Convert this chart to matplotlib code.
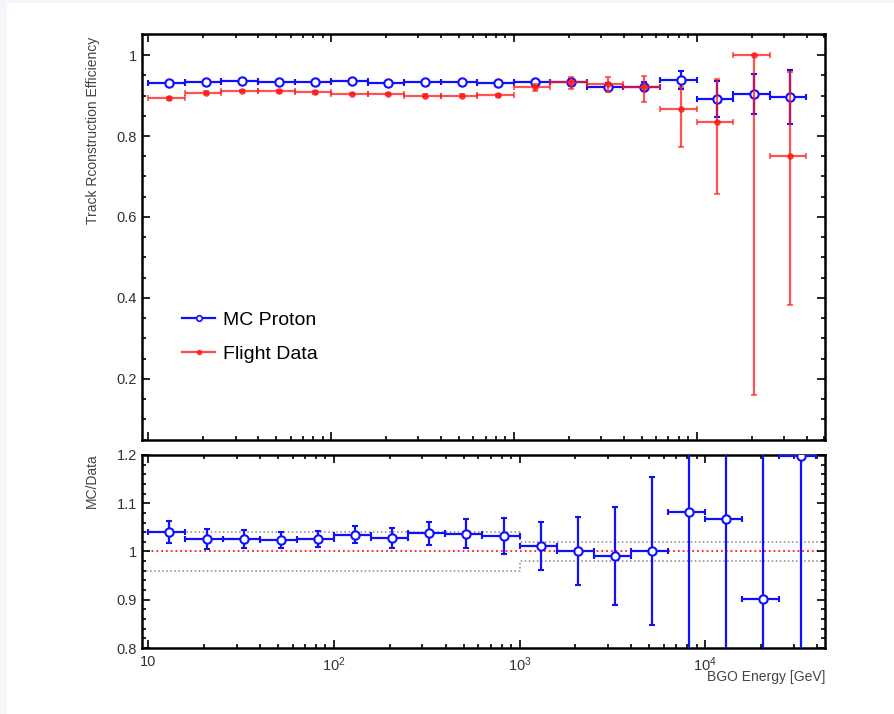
import matplotlib
matplotlib.use("Agg")
import matplotlib.pyplot as plt
from matplotlib.lines import Line2D
from matplotlib.patches import Rectangle
from matplotlib.ticker import FixedLocator, FixedFormatter, LogLocator, NullFormatter, MultipleLocator, FuncFormatter
import numpy as np

plt.rcParams['font.family'] = ['Liberation Sans', 'DejaVu Sans']
plt.rcParams['mathtext.fontset'] = 'custom'
plt.rcParams['mathtext.rm'] = 'Liberation Sans'
plt.rcParams['mathtext.it'] = 'Liberation Sans'

# binning in BGO energy (GeV) and mean energy of each bin
bin_edges = [10, 15.85, 25.12, 39.81, 63.10, 100, 158.5, 251.2, 398.1, 631.0,
             1000, 1585, 2512, 3981, 6310, 10000, 15850, 25120, 39810]
energy = [13.0, 20.6, 32.7, 51.8, 82.1, 130, 206, 327, 518, 821,
          1300, 2061, 3266, 5176, 8204, 13000, 20610, 32660]

# MC proton efficiency
mc_eff = [0.930, 0.933, 0.936, 0.933, 0.933, 0.936, 0.930, 0.934, 0.933, 0.930,
          0.933, 0.934, 0.922, 0.922, 0.938, 0.891, 0.904, 0.897]
mc_err = [0.003, 0.003, 0.003, 0.003, 0.003, 0.003, 0.003, 0.003, 0.003, 0.003,
          0.004, 0.006, 0.008, 0.012, 0.022, 0.045, 0.050, 0.067]

# flight data efficiency (asymmetric errors)
data_eff = [0.893, 0.907, 0.911, 0.910, 0.908, 0.904, 0.904, 0.900, 0.900, 0.901,
            0.920, 0.933, 0.928, 0.920, 0.867, 0.834, 1.000, 0.751]
data_err_lo = [0.003, 0.003, 0.003, 0.003, 0.003, 0.003, 0.003, 0.003, 0.003, 0.004,
               0.008, 0.016, 0.020, 0.035, 0.093, 0.178, 0.840, 0.368]
data_err_hi = [0.003, 0.003, 0.003, 0.003, 0.003, 0.003, 0.003, 0.003, 0.003, 0.004,
               0.008, 0.013, 0.018, 0.028, 0.055, 0.106, 0.000, 0.208]

# MC / Data ratio
ratio = [1.041, 1.026, 1.026, 1.024, 1.026, 1.035, 1.028, 1.038, 1.037, 1.032,
         1.012, 1.001, 0.991, 1.001, 1.082, 1.068, 0.902, 1.197]
ratio_err = [0.023, 0.020, 0.018, 0.017, 0.016, 0.018, 0.020, 0.024, 0.030, 0.037,
             0.050, 0.070, 0.101, 0.154, 0.400, 0.450, 0.500, 0.600]

# systematic bands on the ratio (below / above 1 TeV)
band_split = 1000
band_hi = [1.04, 1.02]
band_lo = [0.96, 0.98]

x = np.array(energy)
lo = np.array(bin_edges[:-1])
hi = np.array(bin_edges[1:])
xerr = [x - lo, hi - x]

fig = plt.figure(figsize=(8.95, 7.14), dpi=100, facecolor='#f4f6fa')
fig.patches.append(Rectangle((7 / 895, 0), 1, 1 - 3 / 714, transform=fig.transFigure,
                             facecolor='white', edgecolor='none', zorder=-10))

ax1 = fig.add_axes([141.7 / 895, 1 - 440 / 714, 683.3 / 895, 406 / 714])
ax2 = fig.add_axes([141.7 / 895, 1 - 648 / 714, 683.3 / 895, 193 / 714])

blue = '#1010ff'
red = '#ff1a1a'

ax1.errorbar(x, mc_eff, xerr=xerr, yerr=mc_err, fmt='o', color=blue,
             mfc='white', mec=blue, ms=6, mew=1.5, elinewidth=1.6,
             capsize=2, capthick=1.2, zorder=3)
ax1.errorbar(x, data_eff, xerr=xerr, yerr=[data_err_lo, data_err_hi], fmt='o',
             color=red, mec=red, ms=3.8, elinewidth=1.6, capsize=2,
             capthick=1.2, alpha=0.75, zorder=4)

handles = [Line2D([], [], color=blue, lw=1.6, marker='o', ms=4, mfc='white', mew=1.2),
           Line2D([], [], color=red, lw=1.6, marker='o', ms=3, alpha=0.8)]
ax1.legend(handles, ['MC Proton', 'Flight Data'], loc='upper left',
           bbox_to_anchor=(182 / 895, 1 - 311 / 714), bbox_transform=fig.transFigure,
           frameon=False, fontsize=14, handlelength=1.7, handletextpad=0.4,
           labelspacing=0.86, borderpad=0, borderaxespad=0)

# ratio panel
xl2 = (9.21, 44260)
ax2.step([xl2[0], band_split, xl2[1]], [band_hi[0], band_hi[1], band_hi[1]],
         where='post', color='#888888', ls=':', lw=1.1, zorder=1)
ax2.step([xl2[0], band_split, xl2[1]], [band_lo[0], band_lo[1], band_lo[1]],
         where='post', color='#888888', ls=':', lw=1.1, zorder=1)
ax2.axhline(1.0, color=red, ls=':', lw=1.3, zorder=1)
ax2.errorbar(x, ratio, xerr=xerr, yerr=ratio_err, fmt='o', color=blue,
             mfc='white', mec=blue, ms=6, mew=1.5, elinewidth=1.6,
             capsize=2, capthick=1.2, zorder=3)

for ax in (ax1, ax2):
    ax.set_xscale('log')
    ax.xaxis.set_major_locator(FixedLocator([10, 100, 1000, 10000]))
    ax.xaxis.set_minor_locator(LogLocator(base=10, subs=np.arange(2, 10)))
    ax.xaxis.set_minor_formatter(NullFormatter())
    ax.tick_params(which='both', direction='in', top=True, right=True,
                   colors='black', labelcolor='#333333', labelsize=10.5, width=1.2)
    ax.tick_params(which='major', length=6)
    ax.tick_params(which='minor', length=3)
    for s in ax.spines.values():
        s.set_linewidth(1.8)
    ax.yaxis.set_major_formatter(FuncFormatter(lambda v, p: f"{v:g}"))

ax1.set_xlim(9.19, 50500)
ax1.set_ylim(0.049, 1.052)
ax1.yaxis.set_major_locator(MultipleLocator(0.2))
ax1.yaxis.set_minor_locator(MultipleLocator(0.05))
ax1.xaxis.set_major_formatter(NullFormatter())

ax2.set_xlim(*xl2)
ax2.set_ylim(0.8, 1.2)
ax2.yaxis.set_major_locator(MultipleLocator(0.1))
ax2.yaxis.set_minor_locator(MultipleLocator(0.02))
ax2.xaxis.set_major_formatter(FixedFormatter(['10', '$10^2$', '$10^3$', '$10^4$']))
ax2.tick_params(axis='x', pad=5)

fig.text(93 / 895, 1 - 37 / 714, 'Track Rconstruction Efficiency', rotation=90,
         ha='center', va='top', fontsize=10, color='#444444')
fig.text(92 / 895, 1 - 453 / 714, 'MC/Data', rotation=90,
         ha='center', va='top', fontsize=10, color='#444444')
fig.text(825 / 895, 1 - 677 / 714, 'BGO Energy [GeV]', ha='right', va='center',
         fontsize=10, color='#444444')

fig.savefig('out.png', dpi=100, facecolor=fig.get_facecolor())
